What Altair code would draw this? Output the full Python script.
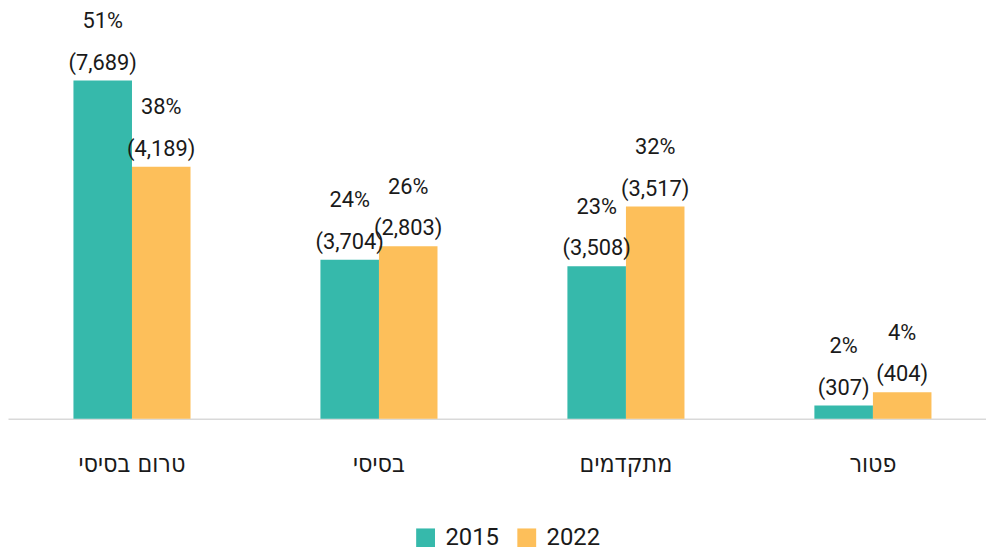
import altair as alt
import pandas as pd

categories = ["טרום בסיסי", "בסיסי", "מתקדמים", "פטור"]
years = ["2015", "2022"]
pct_2015 = [51, 24, 23, 2]
pct_2022 = [38, 26, 32, 4]
count_2015 = [7689, 3704, 3508, 307]
count_2022 = [4189, 2803, 3517, 404]
colors = ["#36B9AB", "#FDBF5A"]

rows = []
for i, c in enumerate(categories):
    for yr, p, n in [("2015", pct_2015[i], count_2015[i]), ("2022", pct_2022[i], count_2022[i])]:
        rows.append(dict(cat=c, year=yr, pct=p, pct_label=f"{p}%", count_label=f"({n:,})"))
df = pd.DataFrame(rows)

NUMFONT = "Roboto, DejaVu Sans Condensed, sans-serif"
HEBFONT = "DejaVu Sans Condensed, sans-serif"
TXT = "#1a1a1a"

x = alt.X("cat:N", sort=categories,
          scale=alt.Scale(paddingInner=0.526, paddingOuter=0.265),
          axis=alt.Axis(title=None, labelAngle=0, labelFontSize=25, labelFont=HEBFONT,
                        labelColor=TXT, labelPadding=33, ticks=False,
                        domainColor="#d9d9d9", domainWidth=1.5, grid=False))
y = alt.Y("pct:Q", scale=alt.Scale(domain=[0, 61.6], nice=False), axis=None)
xo = alt.XOffset("year:N", sort=years, scale=alt.Scale(paddingInner=0, paddingOuter=0))
color = alt.Color("year:N", scale=alt.Scale(domain=years, range=colors),
                  legend=alt.Legend(title=None, orient="none", direction="horizontal",
                                    legendX=409, legendY=520, symbolType="square",
                                    symbolSize=361, symbolStrokeWidth=0, labelFontSize=24,
                                    labelFont=NUMFONT, labelColor=TXT, labelOffset=8,
                                    columnPadding=16, padding=0, symbolOpacity=1))

base = alt.Chart(df)
bars = base.mark_bar().encode(x=x, y=y, xOffset=xo, color=color)
count_txt = base.mark_text(fontSize=22, font=NUMFONT, color=TXT, dy=-18, baseline="middle").encode(
    x=x, y=y, xOffset=xo, text="count_label:N")
pct_txt = base.mark_text(fontSize=22, font=NUMFONT, color=TXT, dy=-60, baseline="middle").encode(
    x=x, y=y, xOffset=xo, text="pct_label:N")

chart = (bars + count_txt + pct_txt).properties(
    width=997, height=412,
    autosize=alt.AutoSizeParams(type="none"),
    padding={"left": 0, "top": 0, "right": -11, "bottom": 127},
).configure_view(stroke=None)

chart.save("out.html", embed_options={"renderer": "svg", "actions": False})
